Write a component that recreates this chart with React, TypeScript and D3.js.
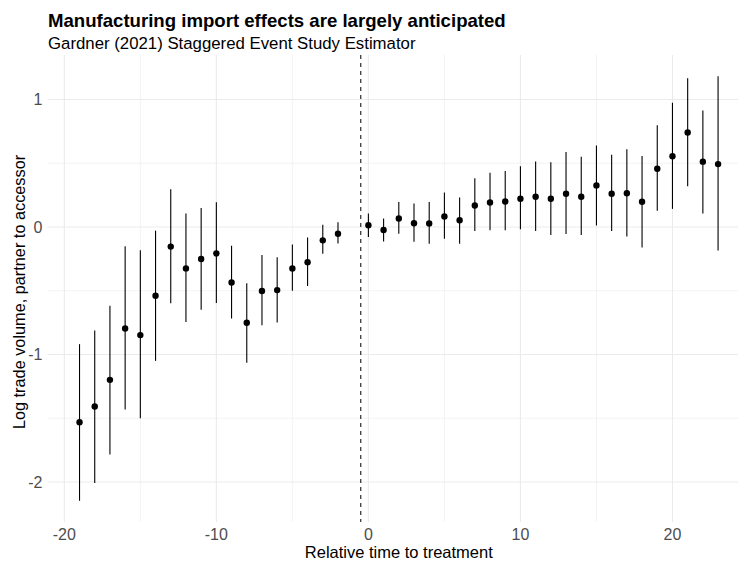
import React from "react";
import * as d3 from "d3";

const periods = [-19,-18,-17,-16,-15,-14,-13,-12,-11,-10,-9,-8,-7,-6,-5,-4,-3,-2,0,1,2,3,4,5,6,7,8,9,10,11,12,13,14,15,16,17,18,19,20,21,22,23];
const estimates = [-1.531,-1.408,-1.199,-0.796,-0.848,-0.539,-0.154,-0.325,-0.251,-0.207,-0.435,-0.751,-0.502,-0.495,-0.326,-0.276,-0.105,-0.053,0.013,-0.024,0.066,0.029,0.027,0.082,0.053,0.168,0.192,0.2,0.221,0.237,0.221,0.261,0.237,0.326,0.261,0.264,0.198,0.456,0.554,0.741,0.512,0.493];
const ciLow = [-2.147,-2.008,-1.785,-1.432,-1.5,-1.05,-0.599,-0.746,-0.649,-0.597,-0.717,-1.065,-0.77,-0.75,-0.5,-0.463,-0.21,-0.13,-0.079,-0.113,-0.053,-0.116,-0.132,-0.092,-0.132,-0.032,-0.026,-0.026,-0.018,-0.032,-0.063,-0.055,-0.063,0.011,-0.032,-0.074,-0.161,0.127,0.142,0.319,0.106,-0.185];
const ciHigh = [-0.919,-0.812,-0.618,-0.152,-0.183,-0.029,0.296,0.105,0.149,0.194,-0.147,-0.442,-0.22,-0.237,-0.137,-0.082,0.018,0.037,0.105,0.066,0.195,0.184,0.195,0.271,0.232,0.382,0.426,0.439,0.476,0.513,0.508,0.587,0.55,0.639,0.566,0.61,0.557,0.797,0.974,1.166,0.913,1.182];
const xMajorTicks = [-20,-10,0,10,20];
const xMinorTicks = [-15,-5,5,15];
const yMajorTicks = [-2,-1,0,1];
const yMinorTicks = [-1.5,-0.5,0.5];

const titleText = "Manufacturing import effects are largely anticipated";
const subtitleText = "Gardner (2021) Staggered Event Study Estimator";
const xTitle = "Relative time to treatment";
const yTitle = "Log trade volume, partner to accessor";

export default function App() {
  const W = 738, H = 564;
  const left = 47.6, right = 750, top = 55, bottom = 522;
  const xMin = d3.min(periods)!, xMax = d3.max(periods)!;
  const xPad = (xMax - xMin) * 0.05;
  const yMin = d3.min(ciLow)!, yMax = d3.max(ciHigh)!;
  const yPad = (yMax - yMin) * 0.05;
  const x = d3.scaleLinear().domain([xMin - xPad, xMax + xPad]).range([left, right]);
  const y = d3.scaleLinear().domain([yMin - yPad, yMax + yPad]).range([bottom, top]);
  const font = "'Liberation Sans', Arial, sans-serif";
  const grid = "#ebebeb";

  return (
    <svg width={W} height={H} style={{ position: "absolute", left: 0, top: 0, background: "#fff" }} fontFamily={font}>
      <rect x={0} y={0} width={W} height={H} fill="#fff" />
      {yMinorTicks.map((t) => (
        <line key={"ym" + t} x1={left} x2={right} y1={y(t)} y2={y(t)} stroke={grid} strokeWidth={0.6} />
      ))}
      {xMinorTicks.map((t) => (
        <line key={"xm" + t} x1={x(t)} x2={x(t)} y1={top} y2={bottom} stroke={grid} strokeWidth={0.6} />
      ))}
      {yMajorTicks.map((t) => (
        <line key={"yM" + t} x1={left} x2={right} y1={y(t)} y2={y(t)} stroke={grid} strokeWidth={1.1} />
      ))}
      {xMajorTicks.map((t) => (
        <line key={"xM" + t} x1={x(t)} x2={x(t)} y1={top} y2={bottom} stroke={grid} strokeWidth={1.1} />
      ))}
      <line x1={x(-0.5)} x2={x(-0.5)} y1={top} y2={bottom} stroke="#000" strokeWidth={1} strokeDasharray="4,4" />
      {periods.map((p, i) => (
        <g key={"p" + p}>
          <line x1={x(p)} x2={x(p)} y1={y(ciLow[i])} y2={y(ciHigh[i])} stroke="#000" strokeWidth={1.1} />
          <circle cx={x(p)} cy={y(estimates[i])} r={3.2} fill="#000" />
        </g>
      ))}
      {yMajorTicks.map((t) => (
        <text key={"yl" + t} x={42.5} y={y(t)} dy="0.36em" textAnchor="end" fontSize={16} fill="#4d4d4d">{t}</text>
      ))}
      {xMajorTicks.map((t) => (
        <text key={"xl" + t} x={x(t)} y={539.5} textAnchor="middle" fontSize={16} fill="#4d4d4d">{t}</text>
      ))}
      <text x={(left + right) / 2} y={557.5} textAnchor="middle" fontSize={16.5} fill="#000">{xTitle}</text>
      <text transform={`translate(25,292) rotate(-90)`} textAnchor="middle" fontSize={16.3} fill="#000">{yTitle}</text>
      <text x={48} y={26.5} fontSize={18.6} fontWeight="bold" fill="#000">{titleText}</text>
      <text x={48} y={48.5} fontSize={16.8} fill="#000">{subtitleText}</text>
    </svg>
  );
}
